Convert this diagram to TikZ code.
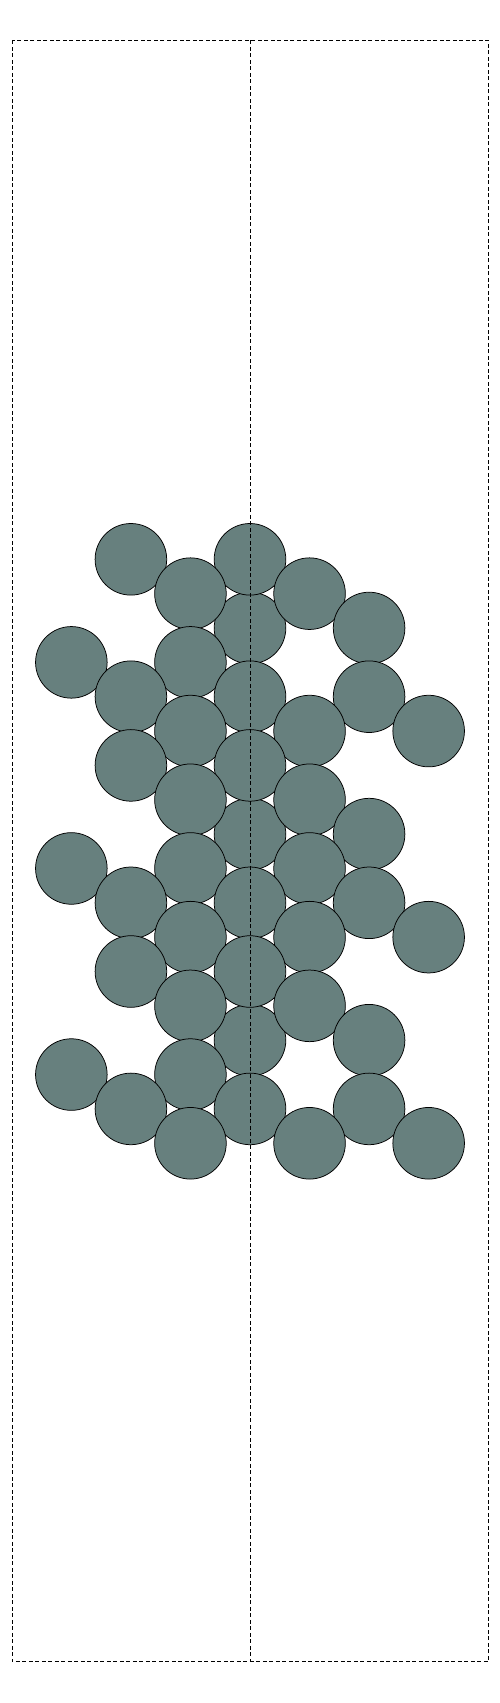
\documentclass[tikz,border=0pt]{standalone}
\definecolor{atomfill}{RGB}{103,128,126}
\begin{document}
\begin{tikzpicture}[x=1pt,y=-1pt,
  atom/.style={circle,draw=black,line width=0.75pt,fill=atomfill,minimum size=71.6pt,inner sep=0pt,outer sep=0pt},
  cellline/.style={draw=black,line width=0.6pt,dash pattern=on 4pt off 2.5pt}]
\useasboundingbox (0,0) rectangle (500,1703);
% atoms further back
\foreach \r/\c in {2/3,8/3,14/3}{
  \node[atom] (b\r-\c) at ({250+59.55*(\c-3)},{559.3+34.35*\r}) {};
}
% remaining atoms
\foreach \r/\c in {0/1,0/3,1/2,1/4,2/5,3/0,3/2,4/1,4/3,4/5,5/2,5/4,5/6,
                   6/1,6/3,7/2,7/4,8/5,9/0,9/2,9/4,10/1,10/3,10/5,11/2,11/4,11/6,
                   12/1,12/3,13/2,13/4,14/5,15/0,15/2,16/1,16/3,16/5,17/2,17/4,17/6}{
  \node[atom] (a\r-\c) at ({250+59.55*(\c-3)},{559.3+34.35*\r}) {};
}
% cell outline and centre line
\coordinate (tl) at (12.3,40.3);
\coordinate (br) at (488.3,1661.7);
\coordinate (ct) at (250,40.3);
\coordinate (cb) at (250,1661.7);
\draw[cellline] (tl) rectangle (br);
\draw[cellline] (ct) -- (cb);
\end{tikzpicture}
\end{document}
